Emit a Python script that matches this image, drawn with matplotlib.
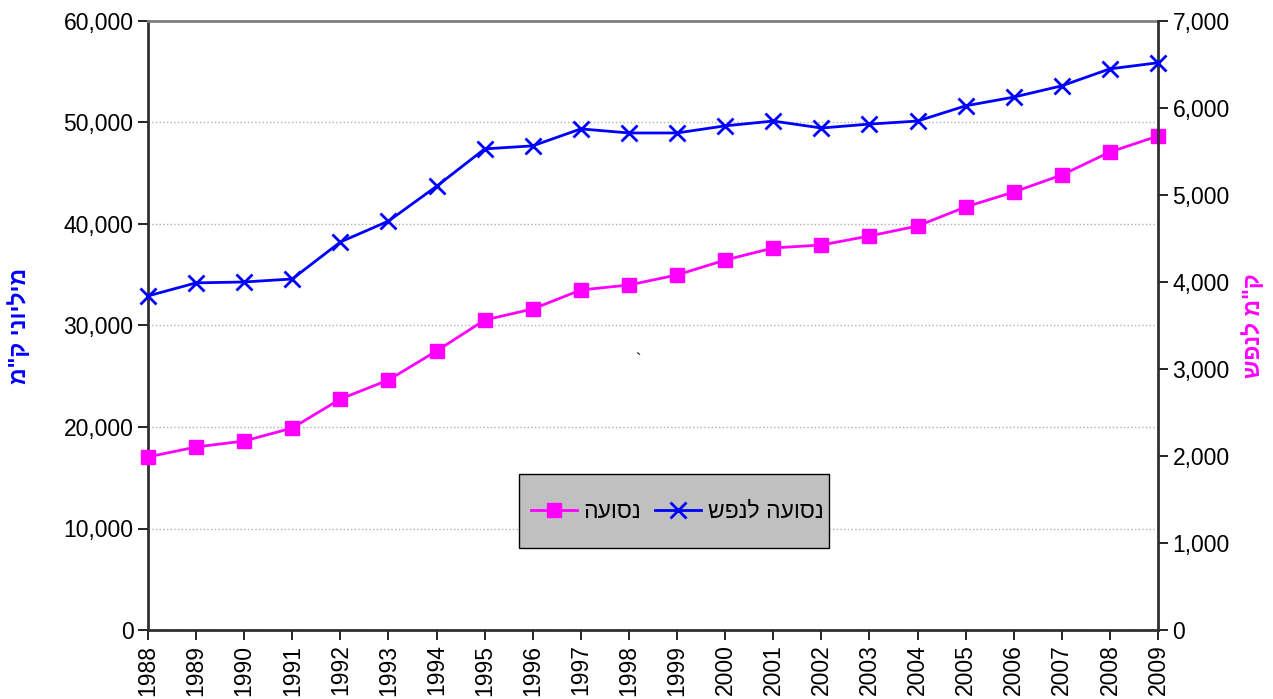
import matplotlib.pyplot as plt
from matplotlib.patches import Rectangle
from matplotlib.ticker import FuncFormatter

plt.rcParams['font.family'] = ['Liberation Sans', 'DejaVu Sans']

years = list(range(1988, 2010))

# total travel, million km (left axis)
total_km = [17050, 18030, 18620, 19900, 22760, 24630, 27490, 30540, 31630, 33500,
            33990, 34980, 36450, 37640, 37930, 38820, 39800, 41680, 43150, 44830,
            47090, 48670]

# travel per capita, km (right axis)
per_capita_km = [3840, 3990, 4000, 4035, 4460, 4700, 5100, 5530, 5565, 5760,
                 5713, 5713, 5795, 5850, 5770, 5815, 5850, 6025, 6125, 6255,
                 6450, 6520]

# Hebrew strings are reversed so they read right-to-left
lbl_total = "נסועה"[::-1]
lbl_capita = "נסועה לנפש"[::-1]
ylabel_left = 'מיליוני ק"מ'[::-1]
ylabel_right = 'ק"מ לנפש'[::-1]

fig = plt.figure(figsize=(12.73, 6.99), dpi=100)
ax = fig.add_axes([148 / 1273, 1 - 630 / 699, 1010 / 1273, 609 / 699])
ax2 = ax.twinx()

l1, = ax.plot(years, total_km, color="#ff00ff", lw=2, marker="s", markersize=10,
              label=lbl_total, clip_on=False, zorder=3)
l2, = ax2.plot(years, per_capita_km, color="#0000ff", lw=2, marker="x", markersize=11,
               markeredgewidth=2, label=lbl_capita, clip_on=False, zorder=3)

ax.set_xlim(1988, 2009)
ax.set_ylim(0, 60000)
ax2.set_ylim(0, 7000)
ax.set_xticks(years)
ax.set_xticklabels([str(y) for y in years], rotation=90, fontsize=16.5)
ax.set_yticks(range(0, 60001, 10000))
ax2.set_yticks(range(0, 7001, 1000))
fmt = FuncFormatter(lambda v, p: f"{int(v):,}")
ax.yaxis.set_major_formatter(fmt)
ax2.yaxis.set_major_formatter(fmt)
ax.tick_params(axis="both", labelsize=16.5, direction="out", length=7, width=1.2)
ax2.tick_params(axis="y", labelsize=16.5, direction="out", length=7, width=1.2)

ax.grid(axis="y", color="#b0b0b0", linestyle=":", linewidth=1)
for s in ["left", "bottom"]:
    ax.spines[s].set_linewidth(2)
    ax.spines[s].set_color("#303030")
ax2.spines["right"].set_linewidth(2)
ax2.spines["right"].set_color("#303030")
ax.spines["top"].set_color("#808080")
ax.spines["top"].set_linewidth(2)
ax2.spines["top"].set_visible(False)
ax2.spines["left"].set_visible(False)
ax2.spines["bottom"].set_visible(False)
ax.spines["right"].set_visible(False)

ax.set_ylabel(ylabel_left, color="#0000ff", fontsize=16.5, fontweight="bold", rotation=90)
ax2.set_ylabel(ylabel_right, color="#ff00ff", fontsize=16.5, fontweight="bold", rotation=90)
ax.yaxis.set_label_coords(-0.116, 0.5)
ax2.yaxis.set_label_coords(1.083, 0.5)

ax.text(0.482, 0.435, "`", transform=ax.transAxes, fontsize=12)

# legend box drawn separately to match the tight frame
box = Rectangle((0.367, 0.1346), 0.307, 0.1215, transform=ax2.transAxes,
                facecolor="#c0c0c0", edgecolor="black", linewidth=1, zorder=4)
ax2.add_patch(box)
leg = ax2.legend([l1, l2], [lbl_total, lbl_capita], ncol=2, loc="center",
                 bbox_to_anchor=(0.524, 0.195), fontsize=16.5, frameon=False,
                 handlelength=2.0, handletextpad=0.3, columnspacing=0.6,
                 borderpad=0.2)
leg.set_zorder(5)

fig.savefig("out.png", dpi=100)
